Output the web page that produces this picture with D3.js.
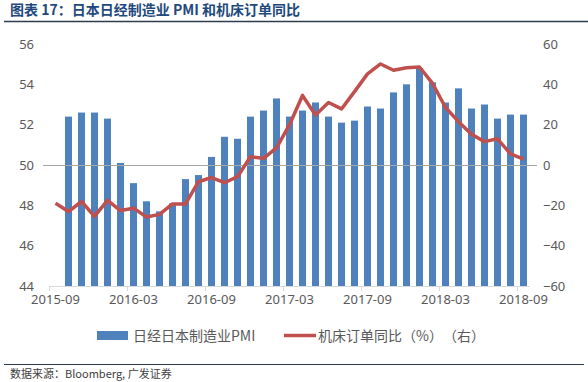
<!DOCTYPE html>
<html lang="zh">
<head>
<meta charset="utf-8">
<title>日本日经制造业 PMI 和机床订单同比</title>
<script src="https://d3js.org/d3.v7.min.js"></script>
<style>
  body { margin: 0; background: #fff; }
  svg text { font-family: "Noto Sans", "Noto Sans CJK SC", sans-serif; text-spacing-trim: space-all; }
  .tick-lbl { font-size: 13px; fill: #595959; }
  .cjk { font-family: "Noto Sans CJK SC", "Noto Sans", sans-serif; }
</style>
</head>
<body>
<svg id="chart" width="588" height="382"></svg>
<script>
// months 2015-09 .. 2018-09
var months = ['2015-09','2015-10','2015-11','2015-12','2016-01','2016-02','2016-03','2016-04','2016-05','2016-06','2016-07','2016-08',
  '2016-09','2016-10','2016-11','2016-12','2017-01','2017-02','2017-03','2017-04','2017-05','2017-06','2017-07','2017-08',
  '2017-09','2017-10','2017-11','2017-12','2018-01','2018-02','2018-03','2018-04','2018-05','2018-06','2018-07','2018-08','2018-09'];

// 日经日本制造业PMI (no bar shown for 2015-09)
var pmi = [null, 52.4, 52.6, 52.6, 52.3, 50.1, 49.1, 48.2, 47.7, 48.1, 49.3, 49.5,
  50.4, 51.4, 51.3, 52.4, 52.7, 53.3, 52.4, 52.7, 53.1, 52.4, 52.1, 52.2,
  52.9, 52.8, 53.6, 54.0, 54.8, 54.1, 53.1, 53.8, 52.8, 53.0, 52.3, 52.5, 52.5];

// 机床订单同比（%）
var orders = [-19.0, -23.1, -18.1, -25.5, -17.5, -22.6, -21.4, -25.8, -24.5, -19.3, -19.3, -8.3,
  -6.2, -8.8, -5.8, 4.1, 3.3, 8.5, 20.0, 34.5, 24.8, 31.0, 27.8, 36.4,
  45.2, 50.1, 47.0, 48.2, 48.6, 40.5, 28.5, 21.5, 15.2, 11.6, 13.0, 5.5, 2.9];

var tickLabels = ['2015-09','2016-03','2016-09','2017-03','2017-09','2018-03','2018-09'];
var leftTicks = [44, 46, 48, 50, 52, 54, 56];
var rightTicks = [-60, -40, -20, 0, 20, 40, 60];

var svg = d3.select('#chart');

var x = d3.scaleBand()
  .domain(months)
  .range([49, 530])
  .paddingInner(0.46)
  .paddingOuter(0.23);
var step = x.step();

var yL = d3.scaleLinear().domain([44, 56]).range([286, 44]);
var yR = d3.scaleLinear().domain([-60, 60]).range([286, 44]);

// title
svg.append('text')
  .attr('class', 'cjk')
  .attr('x', 10).attr('y', 15)
  .style('font-size', '14px').style('font-weight', 'bold')
  .style('fill', '#1F497D')
  .text('图表 17：日本日经制造业 PMI 和机床订单同比');
svg.append('line')
  .attr('x1', 4).attr('x2', 588).attr('y1', 21.5).attr('y2', 21.5)
  .style('stroke', '#2E3D4C').style('stroke-width', 1.5);

// bars
svg.append('g')
  .selectAll('rect')
  .data(months.map(function(m, i) { return {m: m, v: pmi[i]}; }).filter(function(d) { return d.v != null; }))
  .enter()
  .append('rect')
  .attr('x', function(d) { return x(d.m); })
  .attr('width', x.bandwidth())
  .attr('y', function(d) { return yL(d.v); })
  .attr('height', function(d) { return yL(44) - yL(d.v); })
  .style('fill', '#4F81BD');

// zero line of right axis (= 50 on left)
svg.append('line')
  .attr('x1', 43).attr('x2', 537)
  .attr('y1', Math.round(yR(0)) + 0.5).attr('y2', Math.round(yR(0)) + 0.5)
  .style('stroke', '#A6A6A6').style('stroke-width', 1);

// bottom axis
var xAxis = d3.axisBottom(x).tickValues(tickLabels).tickSize(0).tickPadding(9);
var gx = svg.append('g').attr('transform', 'translate(0,286)').call(xAxis);
gx.select('.domain').remove();
gx.selectAll('text').attr('class', 'tick-lbl').attr('fill', null);
svg.append('line')
  .attr('x1', 49).attr('x2', 530).attr('y1', 286.5).attr('y2', 286.5)
  .style('stroke', '#D9D9D9');
svg.append('g')
  .selectAll('line')
  .data(tickLabels)
  .enter()
  .append('line')
  .attr('x1', function(d) { return Math.round(x(d) - (step - x.bandwidth()) / 2) + 0.5; })
  .attr('x2', function(d) { return Math.round(x(d) - (step - x.bandwidth()) / 2) + 0.5; })
  .attr('y1', 286).attr('y2', 291)
  .style('stroke', '#D9D9D9');

// left axis
var gl = svg.append('g').attr('transform', 'translate(34,0)')
  .call(d3.axisLeft(yL).tickValues(leftTicks).tickSize(0).tickPadding(0));
gl.select('.domain').remove();
gl.selectAll('text').attr('class', 'tick-lbl').attr('fill', null);

// right axis
var gr = svg.append('g').attr('transform', 'translate(543,0)')
  .call(d3.axisRight(yR).tickValues(rightTicks).tickSize(0).tickPadding(0));
gr.select('.domain').remove();
gr.selectAll('text').attr('class', 'tick-lbl').attr('fill', null);

// line
var line = d3.line()
  .x(function(d, i) { return x(months[i]) + x.bandwidth() / 2; })
  .y(function(d) { return yR(d); });
svg.append('path')
  .datum(orders)
  .attr('d', line)
  .style('fill', 'none')
  .style('stroke', '#C0504D')
  .style('stroke-width', 3.5)
  .style('stroke-linejoin', 'round');

// legend
var lg = svg.append('g');
lg.append('rect').attr('x', 97).attr('y', 331).attr('width', 31).attr('height', 9).style('fill', '#4F81BD');
lg.append('text').attr('class', 'cjk').attr('x', 133).attr('y', 341)
  .style('font-size', '14px').style('fill', '#595959').text('日经日本制造业PMI');
lg.append('line').attr('x1', 284).attr('x2', 316).attr('y1', 335.5).attr('y2', 335.5)
  .style('stroke', '#C0504D').style('stroke-width', 3.5);
lg.append('text').attr('class', 'cjk').attr('x', 318).attr('y', 341)
  .style('font-size', '14px').style('fill', '#595959').text('机床订单同比（%）（右）');

// source
svg.append('line')
  .attr('x1', 4).attr('x2', 584).attr('y1', 364.5).attr('y2', 364.5)
  .style('stroke', '#2E3D4C').style('stroke-width', 1);
svg.append('text')
  .attr('class', 'cjk')
  .attr('x', 10).attr('y', 378)
  .style('font-size', '11px').style('fill', '#404040')
  .text('数据来源：Bloomberg, 广发证券');
</script>
</body>
</html>
